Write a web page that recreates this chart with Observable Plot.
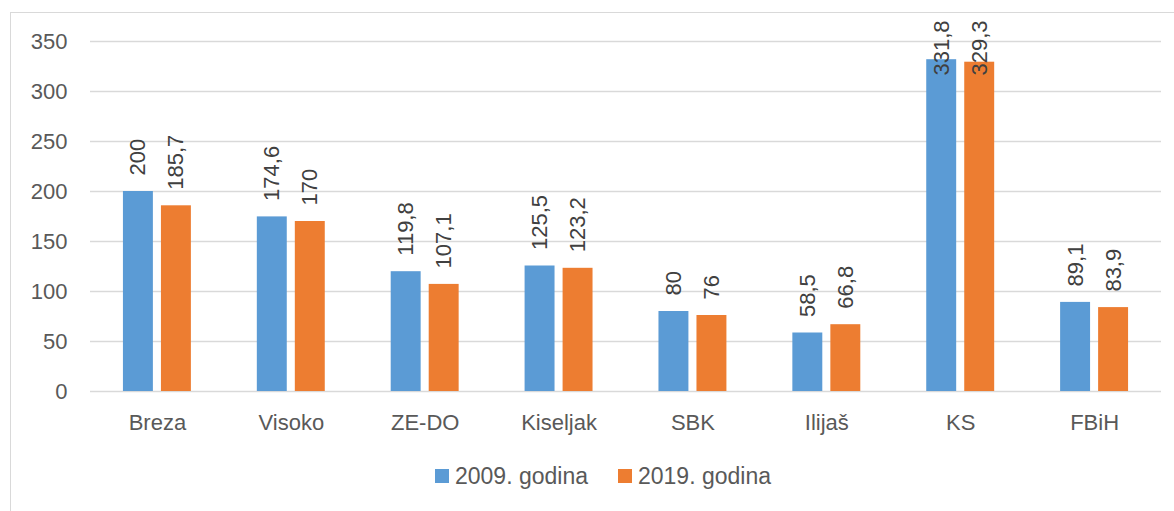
<!DOCTYPE html>
<html><head><meta charset="utf-8">
<script src="https://cdn.jsdelivr.net/npm/d3@7"></script>
<script src="https://cdn.jsdelivr.net/npm/@observablehq/plot@0.6"></script>
<style>
body{margin:0;background:#fff;font-family:"Liberation Sans",Arial,sans-serif;}
#chart{position:absolute;left:0;top:0;}
#frame{position:absolute;left:10px;top:12px;width:1186px;height:520px;border:1.5px solid #d9d9d9;box-sizing:border-box;pointer-events:none;}
#legend{position:absolute;left:10px;top:463px;width:1186px;display:flex;justify-content:center;gap:30px;font-size:23px;color:#595959;line-height:26px;}
.item{display:flex;align-items:center;}
.sw{width:14px;height:14px;margin-right:6px;}
</style></head><body>
<div id="chart"></div>
<div id="legend"></div>
<div id="frame"></div>
<script>
const categories = ["Breza","Visoko","ZE-DO","Kiseljak","SBK","Ilijaš","KS","FBiH"];
const values2009 = [200,174.6,119.8,125.5,80,58.5,331.8,89.1];
const values2019 = [185.7,170,107.1,123.2,76,66.8,329.3,83.9];
const seriesNames = ["2009. godina","2019. godina"];
const seriesColors = ["#5B9BD5","#ED7D31"];
const yTicks = [0,50,100,150,200,250,300,350];

const rows2009 = categories.map((c,i)=>({category:c, value:values2009[i]}));
const rows2019 = categories.map((c,i)=>({category:c, value:values2019[i]}));
const fmt = v => String(v).replace(".", ",");
const big = d => d.value > 300;
const small = d => d.value <= 300;

function labels(rows, dx){
  return [
    Plot.text(rows.filter(small), {x:"category", y:"value", text: d=>fmt(d.value), rotate:-90, textAnchor:"start", lineAnchor:"middle", dx, dy:-16, fill:"#404040", fontSize:22}),
    Plot.text(rows.filter(big), {x:"category", frameAnchor:"top", text: d=>fmt(d.value), rotate:-90, textAnchor:"end", lineAnchor:"middle", dx, dy:-21, fill:"#404040", fontSize:22})
  ];
}

const chart = Plot.plot({
  width:1174, height:445,
  marginLeft:90, marginRight:13, marginTop:41, marginBottom:54,
  style:{fontFamily:"'Liberation Sans', Arial, sans-serif", fontSize:"22px", color:"#595959", background:"transparent"},
  x:{type:"band", domain:categories, paddingInner:0.4925, paddingOuter:0.246, round:false},
  y:{domain:[0,350]},
  marks:[
    Plot.gridY(yTicks, {stroke:"#d9d9d9", strokeOpacity:1, strokeWidth:1.3}),
    Plot.axisY(yTicks, {tickSize:0, tickPadding:23, fontSize:22, label:null}),
    Plot.axisX({tickSize:0, tickPadding:23, fontSize:22, label:null}),
    Plot.barY(rows2009, {x:"category", y:"value", fill:seriesColors[0], insetRight:38}),
    Plot.barY(rows2019, {x:"category", y:"value", fill:seriesColors[1], insetLeft:38}),
    ...labels(rows2009, -19),
    ...labels(rows2019, 19)
  ]
});
document.getElementById("chart").appendChild(chart);

const legend = document.getElementById("legend");
seriesNames.forEach((n,i)=>{
  const it = document.createElement("div"); it.className="item";
  const sw = document.createElement("div"); sw.className="sw"; sw.style.background=seriesColors[i];
  const tx = document.createElement("span"); tx.textContent=n;
  it.appendChild(sw); it.appendChild(tx); legend.appendChild(it);
});
</script>
</body></html>
